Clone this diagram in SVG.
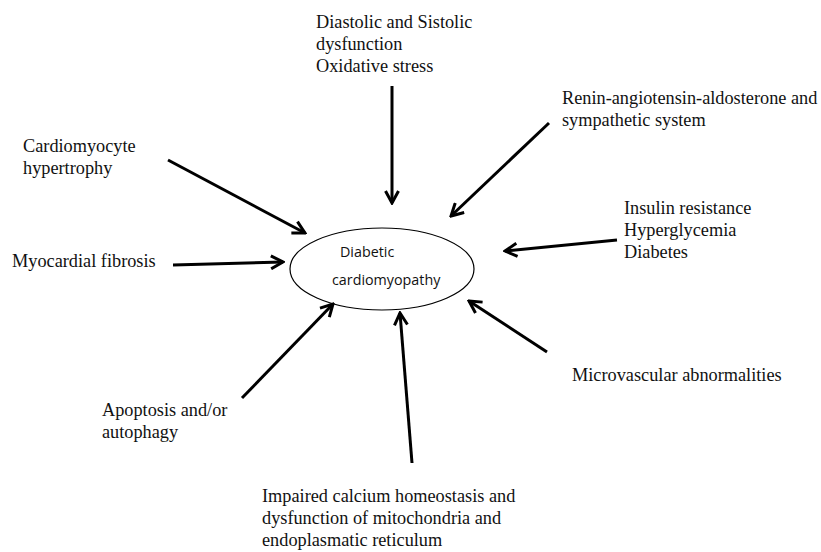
<svg xmlns="http://www.w3.org/2000/svg" width="821" height="552" viewBox="0 0 821 552">
<defs>
<style>
.lbl{font-family:"Liberation Serif","Times New Roman",serif;font-size:18.3px;fill:#111}
.ctr{font-family:"Open Sans","Liberation Sans",sans-serif;font-size:14.3px;fill:#111}
.arr{stroke:#000;stroke-width:3;fill:none;marker-end:url(#ah)}
</style>
<marker id="ah" viewBox="0 0 16 16" refX="14" refY="8" markerWidth="16" markerHeight="16" markerUnits="userSpaceOnUse" orient="auto">
<path d="M2,1.5 L14,8 L2,14.5" stroke="#000" stroke-width="3" fill="none"/>
</marker>
</defs>
<rect width="821" height="552" fill="#fff"/>
<g id="center">
<ellipse cx="382" cy="269" rx="92" ry="41" fill="none" stroke="#000" stroke-width="1.2"/>
<text class="ctr" x="340" y="257">Diabetic</text>
<text class="ctr" x="332" y="285">cardiomyopathy</text>
</g>
<g id="n-diastolic">
<text class="lbl" x="316" y="28">Diastolic and Sistolic</text>
<text class="lbl" x="316" y="50">dysfunction</text>
<text class="lbl" x="316" y="72">Oxidative stress</text>
</g>
<g id="n-renin">
<text class="lbl" x="562" y="104">Renin-angiotensin-aldosterone and</text>
<text class="lbl" x="562" y="126">sympathetic system</text>
</g>
<g id="n-cardiomyocyte">
<text class="lbl" x="23" y="152">Cardiomyocyte</text>
<text class="lbl" x="23" y="174">hypertrophy</text>
</g>
<g id="n-fibrosis">
<text class="lbl" x="12" y="267">Myocardial fibrosis</text>
</g>
<g id="n-insulin">
<text class="lbl" x="624" y="214">Insulin resistance</text>
<text class="lbl" x="624" y="236">Hyperglycemia</text>
<text class="lbl" x="624" y="258">Diabetes</text>
</g>
<g id="n-microvascular">
<text class="lbl" x="572" y="381">Microvascular abnormalities</text>
</g>
<g id="n-apoptosis">
<text class="lbl" x="102" y="416">Apoptosis and/or</text>
<text class="lbl" x="102" y="438">autophagy</text>
</g>
<g id="n-calcium">
<text class="lbl" x="262" y="502">Impaired calcium homeostasis and</text>
<text class="lbl" x="262" y="524">dysfunction of mitochondria and</text>
<text class="lbl" x="262" y="546">endoplasmatic reticulum</text>
</g>
<g id="connectors">
<line class="arr" x1="392" y1="86" x2="392" y2="203"/>
<line class="arr" x1="549" y1="123" x2="451" y2="216"/>
<line class="arr" x1="617" y1="240" x2="505" y2="251"/>
<line class="arr" x1="547" y1="352" x2="469" y2="301"/>
<line class="arr" x1="412" y1="463" x2="400" y2="313"/>
<line class="arr" x1="242" y1="398" x2="333" y2="304"/>
<line class="arr" x1="173" y1="265" x2="283" y2="262"/>
<line class="arr" x1="168" y1="160" x2="305" y2="233"/>
</g>
</svg>
